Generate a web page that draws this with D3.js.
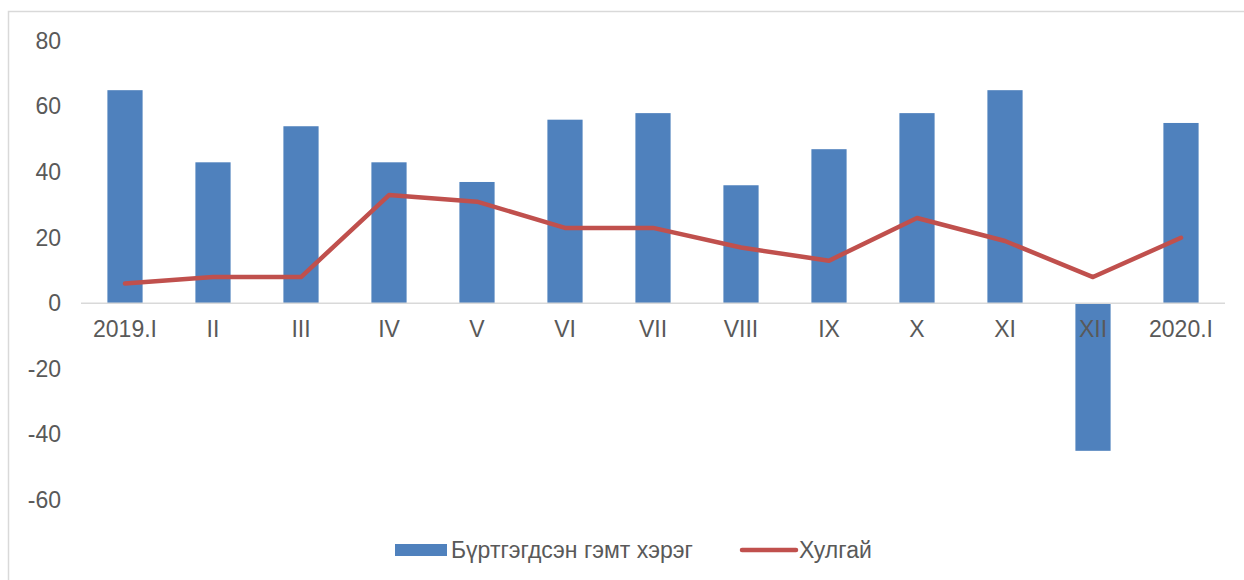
<!DOCTYPE html>
<html>
<head>
<meta charset="utf-8">
<script src="https://cdn.jsdelivr.net/npm/d3@7"></script>
<style>
    body { margin: 0; background: #fff; }
    svg text { font-family: 'Liberation Sans', Arial, sans-serif; fill: #595959; }
</style>
</head>
<body>
<svg id="plate" width="1244" height="580"></svg>
<script>
// categories and series
var months = ['2019.I', 'II', 'III', 'IV', 'V', 'VI', 'VII', 'VIII', 'IX', 'X', 'XI', 'XII', '2020.I'];
var registered = [65, 43, 54, 43, 37, 56, 58, 36, 47, 58, 65, -45, 55];
var theft = [6, 8, 8, 33, 31, 23, 23, 17, 13, 26, 19, 8, 20];
var yTicks = [80, 60, 40, 20, 0, -20, -40, -60];
var seriesNames = ['Бүртгэгдсэн гэмт хэрэг', 'Хулгай'];

var svg = d3.select('#plate');

// outer chart border
svg.append('rect')
    .attr('x', 8.5).attr('y', 11.5)
    .attr('width', 1260).attr('height', 600)
    .attr('fill', 'none')
    .attr('stroke', '#d9d9d9')
    .attr('stroke-width', 1.5);

// plot area bounds
var plot = {left: 81, right: 1225, top: 41, bottom: 500};

// set the ranges
var x = d3.scaleBand().domain(months).range([plot.left, plot.right]).paddingInner(0.6).paddingOuter(0.3);
var y = d3.scaleLinear().domain([-60, 80]).range([plot.bottom, plot.top]);

// bars
svg.append('g')
    .selectAll('rect')
    .data(registered)
    .enter().append('rect')
    .attr('x', function(d, i) { return x(months[i]); })
    .attr('width', x.bandwidth())
    .attr('y', function(d) { return y(Math.max(0, d)); })
    .attr('height', function(d) { return Math.abs(y(d) - y(0)); })
    .attr('fill', '#4f81bd');

// zero axis line
svg.append('line')
    .attr('x1', plot.left).attr('x2', plot.right)
    .attr('y1', y(0)).attr('y2', y(0))
    .attr('stroke', '#d9d9d9')
    .attr('stroke-width', 1.5);

// theft line
var line = d3.line()
    .x(function(d, i) { return x(months[i]) + x.bandwidth() / 2; })
    .y(function(d) { return y(d); });

svg.append('path')
    .datum(theft)
    .attr('d', line)
    .attr('fill', 'none')
    .attr('stroke', '#c0504d')
    .attr('stroke-width', 4.5)
    .attr('stroke-linejoin', 'round')
    .attr('stroke-linecap', 'round');

// Y axis labels
var yAxis = svg.append('g')
    .attr('transform', 'translate(61,0)')
    .call(d3.axisLeft(y).tickValues(yTicks).tickSize(0).tickPadding(0).tickFormat(function(d) { return d < 0 ? '-' + Math.abs(d) : d; }));
yAxis.select('.domain').remove();
yAxis.selectAll('text')
    .attr('font-size', 23)
    .attr('font-family', "'Liberation Sans', Arial, sans-serif")
    .attr('fill', '#595959');

// X axis labels
var xAxis = svg.append('g')
    .attr('transform', 'translate(0,' + y(0) + ')')
    .call(d3.axisBottom(x).tickSize(0).tickPadding(17));
xAxis.select('.domain').remove();
xAxis.selectAll('text')
    .attr('font-size', 23)
    .attr('font-family', "'Liberation Sans', Arial, sans-serif")
    .attr('fill', '#595959');

// legend
var legend = svg.append('g');
legend.append('rect')
    .attr('x', 395).attr('y', 544)
    .attr('width', 52).attr('height', 12)
    .attr('fill', '#4f81bd');
legend.append('text')
    .attr('x', 451).attr('y', 558)
    .attr('font-size', 23)
    .text(seriesNames[0]);
legend.append('line')
    .attr('x1', 742).attr('x2', 796)
    .attr('y1', 550).attr('y2', 550)
    .attr('stroke', '#c0504d')
    .attr('stroke-width', 4.5)
    .attr('stroke-linecap', 'round');
legend.append('text')
    .attr('x', 799).attr('y', 558)
    .attr('font-size', 23)
    .text(seriesNames[1]);
</script>
</body>
</html>
